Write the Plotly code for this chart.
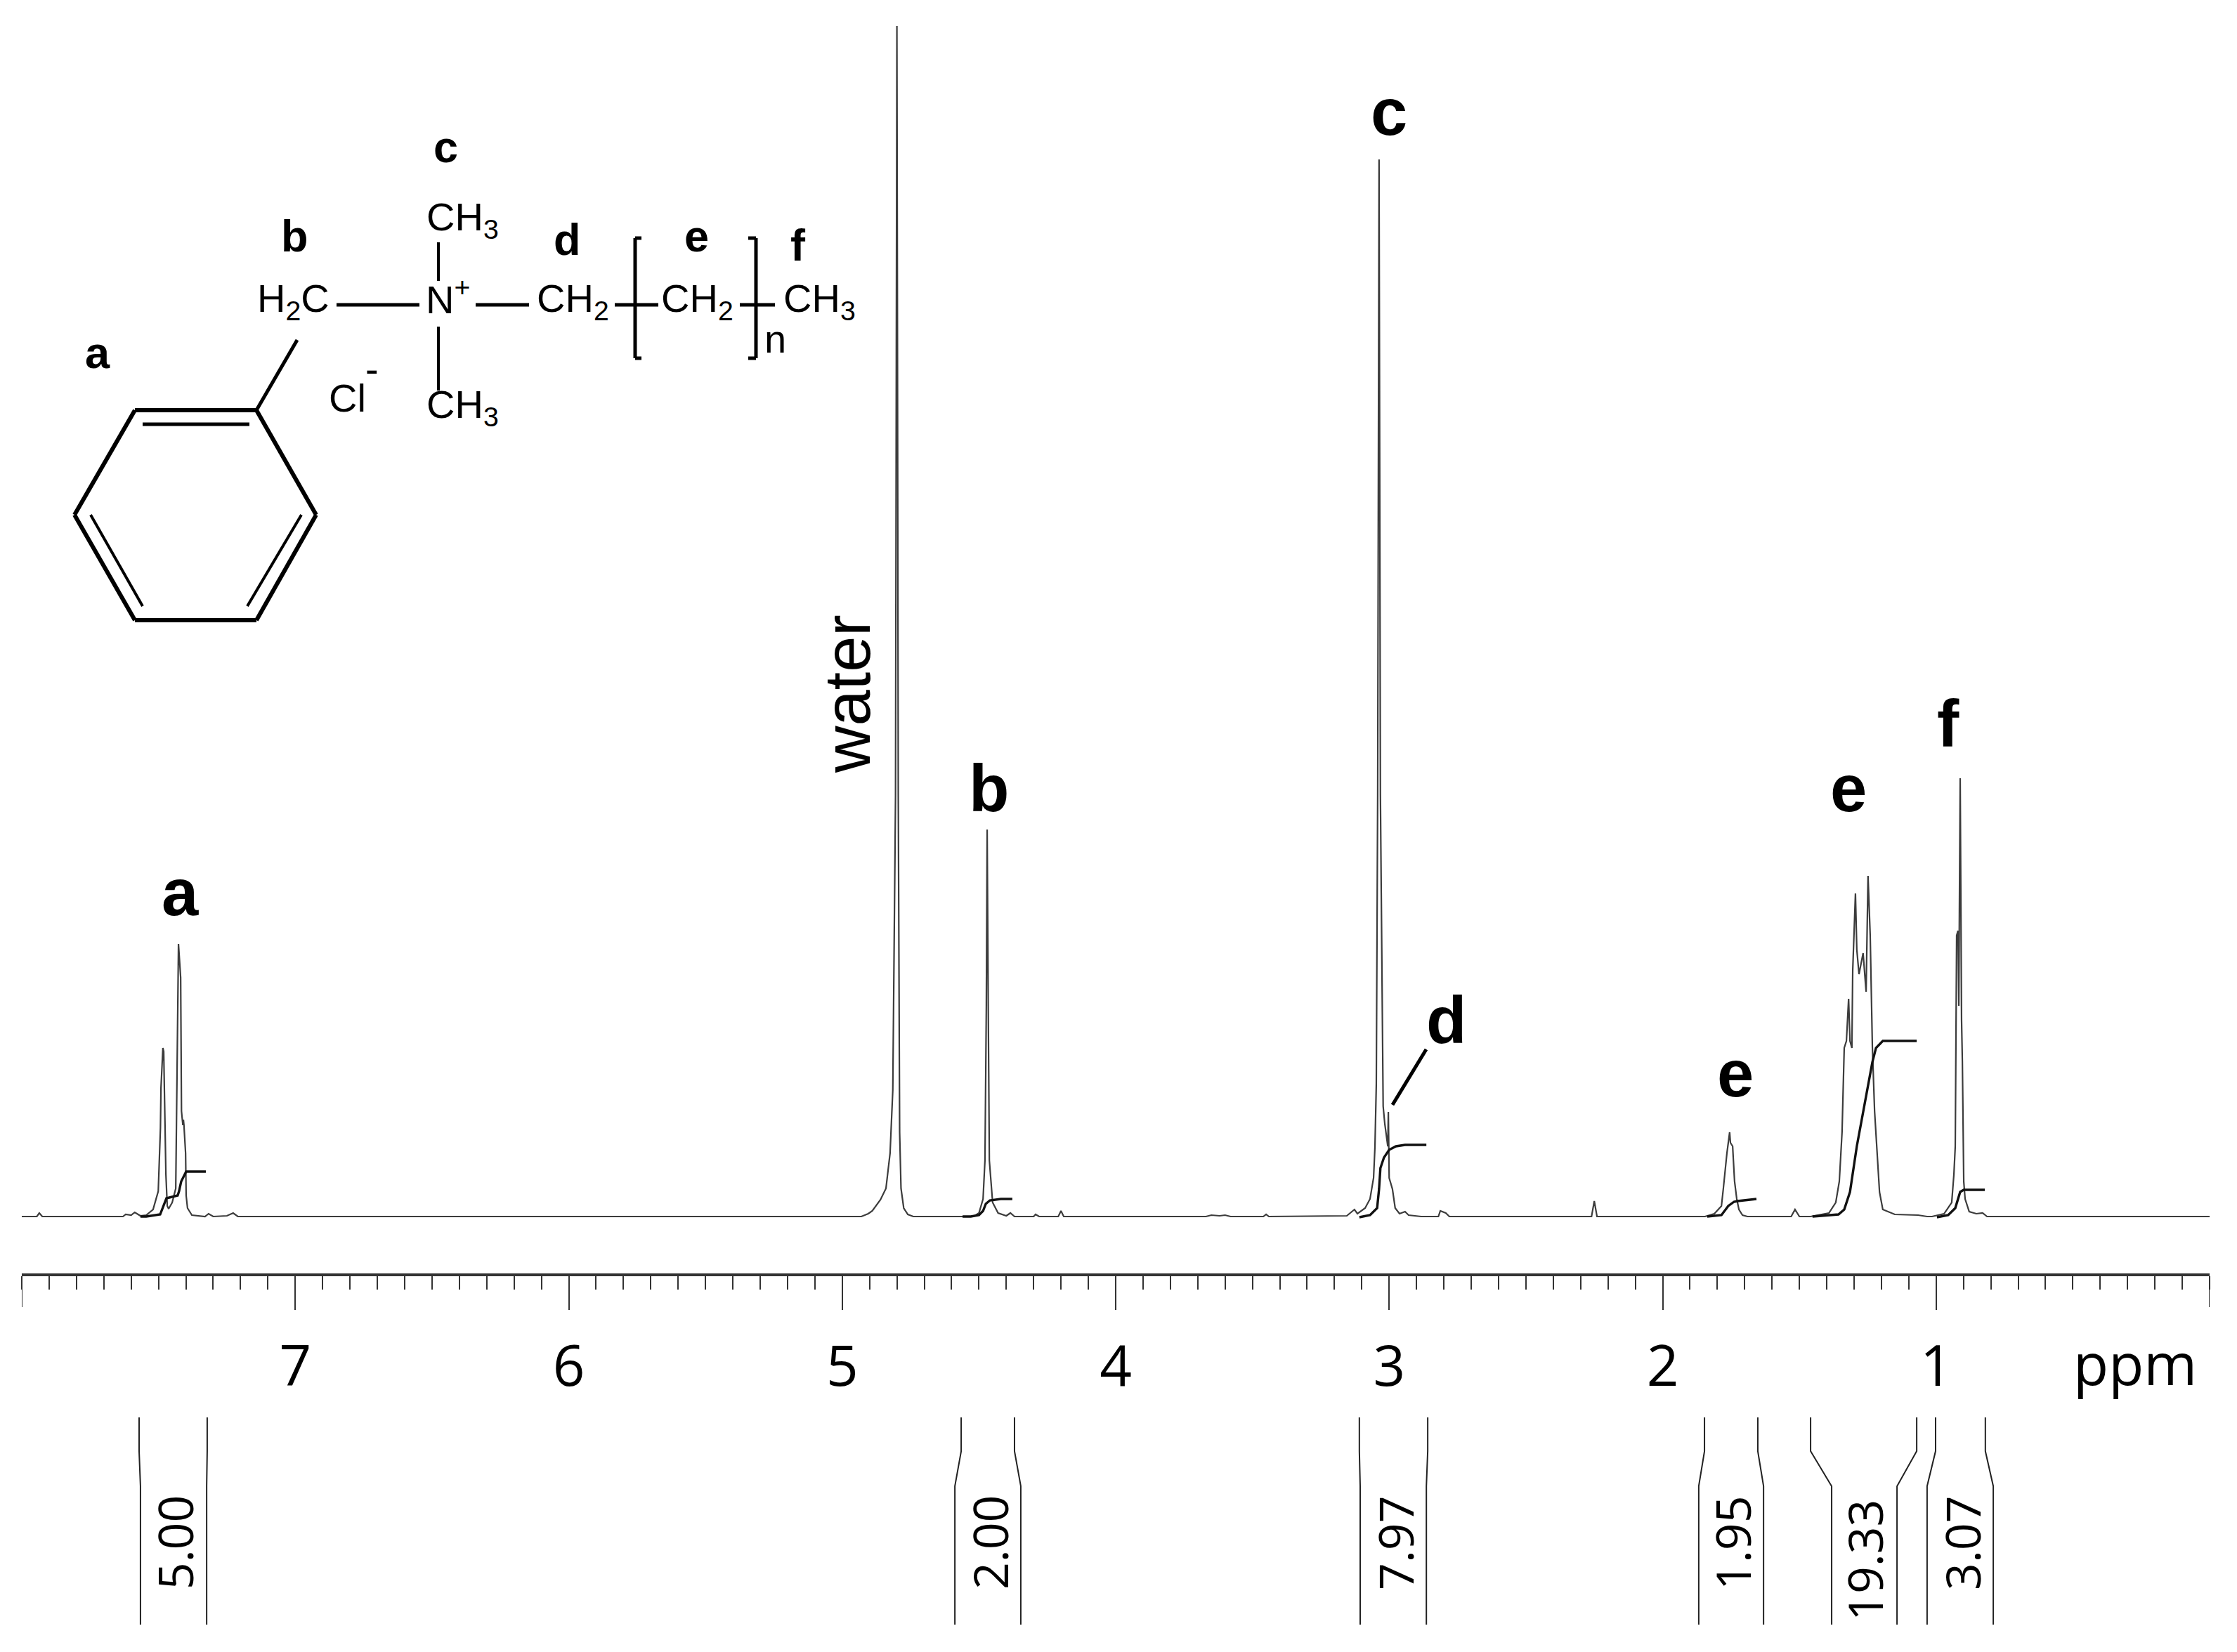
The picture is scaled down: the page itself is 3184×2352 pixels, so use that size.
import plotly.graph_objects as go

# ---- data --------------------------------------------------------------
TICK_PPM = [1, 2, 3, 4, 5, 6, 7]
TICK_TEXT = ["1", "2", "3", "4", "5", "6", "7"]
AXIS_END_PPM = [0, 8]

SPEC_PPM = [8.0, 7.945, 7.936, 7.925, 7.63, 7.62, 7.60, 7.587, 7.566, 7.545, 7.52, 7.501, 7.493, 7.491, 7.484,
            7.481, 7.473, 7.468, 7.463, 7.45, 7.437, 7.434, 7.429, 7.427, 7.419, 7.416, 7.411, 7.409, 7.407,
            7.401, 7.399, 7.394, 7.378, 7.33, 7.317, 7.30, 7.25, 7.227, 7.21,
            4.93, 4.905, 4.89, 4.86, 4.84, 4.825, 4.815, 4.805, 4.80, 4.795, 4.79, 4.785, 4.775, 4.76, 4.74,
            4.52, 4.50, 4.485, 4.478, 4.473, 4.47, 4.466, 4.462, 4.45, 4.43, 4.40, 4.385, 4.37, 4.30, 4.293, 4.28,
            4.21, 4.20, 4.19, 3.67, 3.65, 3.62, 3.60, 3.58, 3.46, 3.45, 3.44,
            3.155, 3.127, 3.116, 3.088, 3.07, 3.057, 3.052, 3.047, 3.042, 3.037, 3.032, 3.024, 3.022, 3.016,
            3.005, 3.003, 3.002, 3.0, 2.988, 2.978, 2.962, 2.942, 2.929, 2.90, 2.883, 2.82, 2.813, 2.793, 2.78,
            2.26, 2.25, 2.24, 1.86, 1.845, 1.811, 1.785, 1.778, 1.77, 1.765, 1.76, 1.755, 1.752, 1.744, 1.742,
            1.737, 1.729, 1.721, 1.708, 1.69, 1.53, 1.516, 1.50,
            1.459, 1.392, 1.367, 1.354, 1.344, 1.336, 1.328, 1.32, 1.315, 1.308, 1.305, 1.295, 1.29, 1.282,
            1.267, 1.256, 1.249, 1.241, 1.233, 1.225, 1.215, 1.207, 1.195, 1.151, 1.066, 1.033,
            1.015, 0.971, 0.943, 0.935, 0.93, 0.925, 0.92, 0.917, 0.912, 0.907, 0.904, 0.899, 0.894, 0.879,
            0.853, 0.83, 0.814, 0.0]
SPEC_INT = [0, 0, 5, 0, 0, 3, 2, 6, 1, 2, 10, 36, 126, 183, 240,
            235, 60, 15, 11, 20, 40, 150, 340, 388, 340, 150, 130, 138, 130,
            90, 30, 12, 2, 0, 4, 0, 1, 5, 0,
            0, 4, 8, 24, 40, 90, 180, 600, 1695, 600, 120, 40, 12, 3, 0,
            0, 5, 25, 80, 300, 551, 300, 80, 20, 5, 1, 5, 0, 0, 3, 0,
            0, 8, 0, 0, 2, 1, 2, 0, 0, 3, 0,
            1, 10, 4, 12, 25, 55, 99, 189, 600, 1505, 600, 245, 157, 132,
            100, 149, 99, 55, 39, 12, 4, 7, 2, 1, 0, 0, 8, 5, 0,
            0, 22, 0, 0, 0, 4, 15, 40, 75, 90, 105, 120, 105, 100, 85,
            50, 25, 10, 2, 0, 0, 10, 0,
            0, 5, 20, 50, 120, 240, 250, 310, 250, 240, 350, 460, 380, 345,
            375, 320, 485, 400, 240, 150, 80, 35, 10, 3, 2, 0,
            0, 4, 20, 60, 100, 400, 407, 300, 624, 280, 220, 50, 25, 7,
            4, 5, 0, 0]

INT_A_PPM = [7.566, 7.545, 7.494, 7.471, 7.43, 7.425, 7.417, 7.399, 7.327]
INT_A_VAL = [0, 0, 3, 26, 30, 36, 50, 64, 64]
INT_B_PPM = [4.56, 4.53, 4.50, 4.485, 4.475, 4.46, 4.42, 4.378]
INT_B_VAL = [0, 0, 2, 8, 18, 23, 25, 25]
INT_D_PPM = [3.109, 3.07, 3.044, 3.037, 3.032, 3.019, 3.0, 2.975, 2.942, 2.864]
INT_D_VAL = [-1, 2, 12, 39, 69, 84, 95, 100, 102, 102]
INT_E1_PPM = [1.837, 1.785, 1.76, 1.739, 1.726, 1.657]
INT_E1_VAL = [0, 2, 15, 21, 22, 25]
INT_E2_PPM = [1.452, 1.357, 1.336, 1.315, 1.29, 1.233, 1.22, 1.195, 1.151, 1.071]
INT_E2_VAL = [0, 3, 10, 35, 100, 220, 240, 250, 250, 250]
INT_F_PPM = [0.997, 0.956, 0.93, 0.912, 0.899, 0.822]
INT_F_VAL = [-1, 2, 12, 35, 38, 38]

INTEGRAL_VALUES = ["5.00", "2.00", "7.97", "1.95", "19.33", "3.07"]
BRACKET_LEFT_TOP = [7.571, 4.565, 3.109, 1.847, 1.459, 1.002]
BRACKET_LEFT_BOTTOM = [7.566, 4.588, 3.106, 1.868, 1.382, 1.033]
BRACKET_RIGHT_TOP = [7.322, 4.370, 2.859, 1.652, 1.071, 0.820]
BRACKET_RIGHT_BOTTOM = [7.324, 4.347, 2.864, 1.631, 1.143, 0.791]
BRACKET_LABEL_PPM = [7.437, 4.457, 2.975, 1.742, 1.259, 0.902]

# ---- canvas helpers -----------------------------------------------------
W, H = 3184, 2352
AX_L, AX_R = 31, 3145
AX_Y, BASE_Y = 1813, 1732
BR_TOP, BR_BOT = 2018, 2313
INK = "#111111"
SPEC_C = "#3c3c3c"


def px(x, y):
    return x / W, 1 - y / H


fig = go.Figure()
fig.add_trace(go.Scatter(x=SPEC_PPM, y=SPEC_INT, mode="lines", line=dict(color=SPEC_C, width=2.2), showlegend=False))
for xs, ys in [(INT_A_PPM, INT_A_VAL), (INT_B_PPM, INT_B_VAL), (INT_D_PPM, INT_D_VAL),
               (INT_E1_PPM, INT_E1_VAL), (INT_E2_PPM, INT_E2_VAL), (INT_F_PPM, INT_F_VAL)]:
    fig.add_trace(go.Scatter(x=xs, y=ys, mode="lines", line=dict(color=INK, width=3.4), showlegend=False))

BR_LEVELS = [0, 0.163, 0.332, 1]
for lt, lb, rt, rb in zip(BRACKET_LEFT_TOP, BRACKET_LEFT_BOTTOM, BRACKET_RIGHT_TOP, BRACKET_RIGHT_BOTTOM):
    for top, bottom in ((lt, lb), (rt, rb)):
        fig.add_trace(go.Scatter(x=[top, top, bottom, bottom], y=BR_LEVELS, mode="lines", xaxis="x2", yaxis="y2",
                                 line=dict(color="#222222", width=2), showlegend=False))

annotations = []


def label(x, y, text, size, bold=False, family="Liberation Sans", angle=0, anchor="center"):
    ax, ay = px(x, y)
    annotations.append(dict(x=ax, y=ay, xref="paper", yref="paper", text=f"<b>{text}</b>" if bold else text,
                            showarrow=False, xanchor=anchor, yanchor="middle", textangle=angle,
                            font=dict(family=family, size=size, color="#000000")))


# spectrum assignment labels
for x, y, t in [(256, 1270, "a"), (1407, 1122, "b"), (1977, 160, "c"), (2058, 1452, "d"),
                (2470, 1528, "e"), (2631, 1122, "e"), (2773, 1030, "f")]:
    label(x, y, t, 94, bold=True)
label(1206, 988, "water", 92, angle=-90)
label(3039, 1940, "ppm", 82, family="Open Sans")

# integral values under the brackets
for ppm, t in zip(BRACKET_LABEL_PPM, INTEGRAL_VALUES):
    x = AX_R - ppm * (AX_R - AX_L) / 8
    label(x - 2, 2221 if t == "19.33" else 2196, t, 68, family="Open Sans", angle=-90)

# structure text
for x, y, t in [(139, 502, "a"), (419, 336, "b"), (634, 209, "c"), (807, 341, "d"), (991, 336, "e"), (1136, 349, "f")]:
    label(x, y, t, 63, bold=True)
for x, y, t in [(364, 428, "H<sub>2</sub>C"), (605, 313, "CH<sub>3</sub>"), (604, 423, "N<sup>+</sup>"),
                (762, 428, "CH<sub>2</sub>"), (939, 428, "CH<sub>2</sub>"), (1113, 428, "CH<sub>3</sub>"),
                (605, 579, "CH<sub>3</sub>"), (466, 566, "Cl"), (1086, 482, "n"), (518, 525, "-")]:
    label(x, y, t, 56, anchor="left")

shapes = []


def seg(pts, width=4):
    for (x0, y0), (x1, y1) in zip(pts[:-1], pts[1:]):
        a0, b0 = px(x0, y0)
        a1, b1 = px(x1, y1)
        shapes.append(dict(type="line", xref="paper", yref="paper", x0=a0, y0=b0, x1=a1, y1=b1,
                           line=dict(color="#000000", width=width)))


seg([(192, 584), (365, 584), (450, 733), (365, 883), (192, 883), (106, 733), (192, 584)], 6)
seg([(203, 604), (355, 604)], 5)
seg([(129, 733), (203, 863)], 4)
seg([(429, 733), (352, 863)], 4)
seg([(365, 584), (423, 484)], 5)
seg([(479, 434), (597, 434)], 5)
seg([(677, 434), (753, 434)], 5)
seg([(624, 345), (624, 400)], 4)
seg([(624, 465), (624, 556)], 4)
seg([(875, 434), (937, 434)], 5)
seg([(1053, 434), (1103, 434)], 5)
seg([(913, 339), (904, 339), (904, 510), (913, 510)], 5)
seg([(1065, 339), (1076, 339), (1076, 510), (1065, 510)], 5)
seg([(1982, 1573), (2030, 1494)], 5)

# the two unlabelled long ticks at the ends of the scale
for ppm in AXIS_END_PPM:
    shapes.append(dict(type="line", xref="x", yref="paper", x0=ppm, x1=ppm, y0=1 - AX_Y / H, y1=1 - (AX_Y + 48) / H,
                       line=dict(color="#333333", width=2)))

dom = [AX_L / W, AX_R / W]
fig.update_layout(
    width=W, height=H, margin=dict(l=0, r=0, t=0, b=0), paper_bgcolor="white", plot_bgcolor="white",
    showlegend=False, annotations=annotations, shapes=shapes,
    xaxis=dict(domain=dom, range=[8, 0], anchor="y", showgrid=False, zeroline=False, showline=True,
               linewidth=4, linecolor="#333333", ticks="outside", ticklen=48, tickwidth=2, tickcolor="#333333",
               tickmode="array", tickvals=TICK_PPM, ticktext=TICK_TEXT, ticklabelstandoff=12,
               tickfont=dict(family="Open Sans", size=80, color="#000000"),
               minor=dict(ticks="outside", ticklen=19, tickwidth=2, tickcolor="#333333",
                          tickmode="linear", tick0=0, dtick=0.1, showgrid=False)),
    yaxis=dict(domain=[1 - AX_Y / H, 1], range=[-(AX_Y - BASE_Y), BASE_Y], visible=False),
    xaxis2=dict(domain=dom, range=[8, 0], anchor="y2", visible=False, matches="x"),
    yaxis2=dict(domain=[1 - BR_BOT / H, 1 - BR_TOP / H], range=[1, 0], anchor="x2", visible=False),
)
fig.write_html("out.html", config={"displayModeBar": False}, post_script="document.body.style.margin='0';")
